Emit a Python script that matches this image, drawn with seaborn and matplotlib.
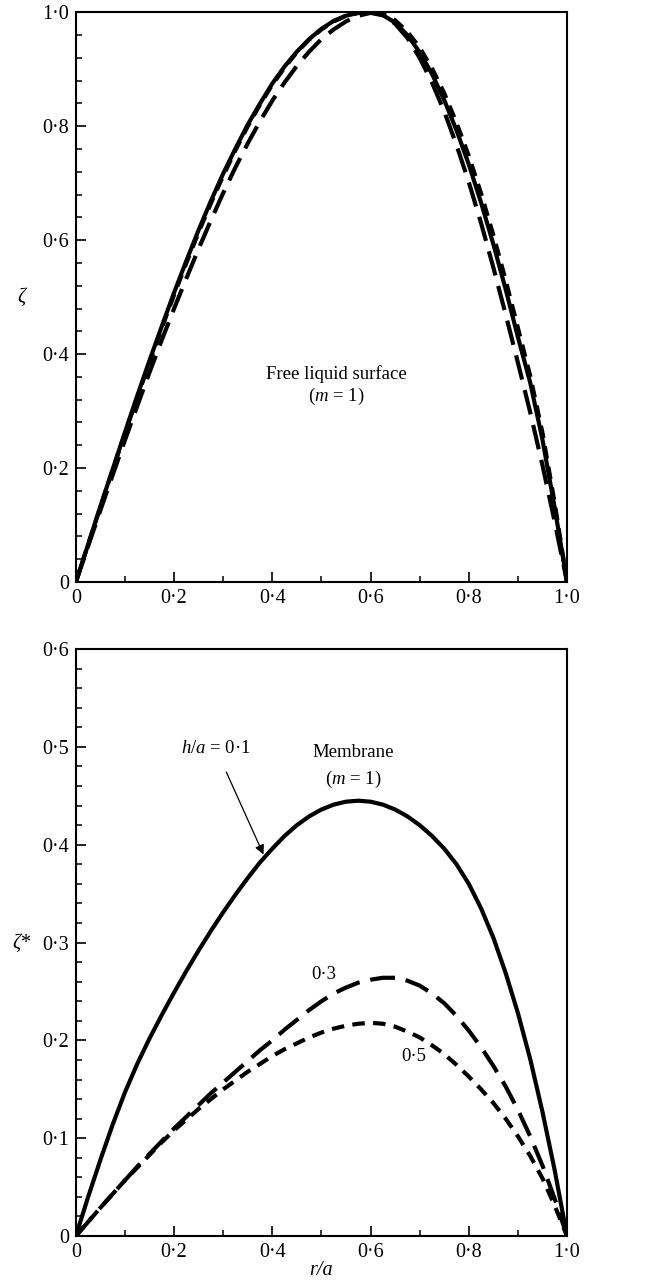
import numpy as np
import pandas as pd
import matplotlib
matplotlib.use("Agg")
import matplotlib.pyplot as plt
import seaborn as sns
from matplotlib.ticker import MultipleLocator

# ---------------- data ----------------
r_a = [0.0, 0.025, 0.05, 0.075, 0.10, 0.125, 0.15, 0.175, 0.20, 0.225,
       0.25, 0.275, 0.30, 0.325, 0.35, 0.375, 0.40, 0.425, 0.45, 0.475,
       0.50, 0.525, 0.55, 0.575, 0.60, 0.625, 0.65, 0.675, 0.70, 0.725,
       0.75, 0.775, 0.80, 0.825, 0.85, 0.875, 0.90, 0.925, 0.95, 0.975, 1.0]

# top panel: free liquid surface (m = 1)
free_solid = [0, .066, .133, .198, .263, .327, .389, .449, .508, .564,
              .618, .669, .717, .761, .803, .840, .875, .905, .931, .953,
              .971, .985, .994, .999, 1.0, .995, .982, .960, .930, .892,
              .846, .793, .733, .666, .593, .514, .430, .350, .250, .130, 0]
free_long = [0, .063, .126, .188, .249, .309, .368, .425, .480, .533,
             .585, .635, .683, .728, .770, .809, .845, .877, .906, .931,
             .953, .970, .984, .994, .999, .995, .980, .955, .920, .877,
             .826, .767, .702, .630, .552, .470, .385, .298, .205, .105, 0]
free_short = [0, .066, .132, .197, .261, .324, .386, .446, .504, .560,
              .614, .665, .713, .758, .800, .838, .873, .903, .930, .952,
              .970, .984, .994, .999, 1.0, .997, .986, .966, .938, .902,
              .858, .806, .748, .682, .609, .530, .446, .362, .262, .138, 0]

# bottom panel: membrane (m = 1), h/a = 0.1, 0.3, 0.5
mem_01 = [0, .040, .078, .114, .147, .176, .202, .226, .249, .271,
          .292, .312, .331, .349, .366, .382, .396, .409, .420, .429,
          .436, .441, .444, .445, .444, .441, .436, .429, .420, .409,
          .396, .380, .360, .335, .305, .269, .228, .181, .127, .067, 0]
mem_03 = [0, .0145, .029, .043, .057, .071, .084, .097, .110, .122,
          .134, .146, .157, .168, .179, .190, .200, .211, .221, .231,
          .240, .248, .254, .259, .262, .264, .264, .261, .256, .248,
          .238, .225, .210, .193, .174, .153, .129, .102, .072, .038, 0]
mem_05 = [0, .0145, .029, .043, .057, .070, .083, .096, .108, .119,
          .130, .140, .150, .159, .168, .176, .184, .191, .197, .203,
          .208, .212, .215, .217, .218, .217, .214, .209, .203, .195,
          .186, .175, .163, .150, .136, .120, .102, .082, .059, .031, 0]

x_ticks = [0, 0.2, 0.4, 0.6, 0.8, 1.0]
x_ticklabels = ["0", "0·2", "0·4", "0·6", "0·8", "1·0"]
top_yticks = [0, 0.2, 0.4, 0.6, 0.8, 1.0]
top_yticklabels = ["0", "0·2", "0·4", "0·6", "0·8", "1·0"]
bot_yticks = [0, 0.1, 0.2, 0.3, 0.4, 0.5, 0.6]
bot_yticklabels = ["0", "0·1", "0·2", "0·3", "0·4", "0·5", "0·6"]

# ---------------- style ----------------
sns.set_theme(style="white")
plt.rcParams["font.family"] = ["Liberation Serif", "DejaVu Serif"]
plt.rcParams["mathtext.fontset"] = "custom"
plt.rcParams["mathtext.it"] = "Liberation Serif:italic"
plt.rcParams["mathtext.rm"] = "Liberation Serif"
plt.rcParams["text.color"] = "black"
plt.rcParams["axes.labelcolor"] = "black"
plt.rcParams["xtick.color"] = "black"
plt.rcParams["ytick.color"] = "black"

fig = plt.figure(figsize=(6.54, 12.83), dpi=100)
ax1 = fig.add_axes([0.116, 0.5464, 0.751, 0.444])
ax2 = fig.add_axes([0.116, 0.0366, 0.751, 0.4575])

LW = 3.0
SOLID = "-"
LONG = (0, (6.0, 2.6))
SHORT = (0, (3.0, 2.0))

def draw(ax, y, ls):
    df = pd.DataFrame({"r": r_a, "z": y})
    sns.lineplot(data=df, x="r", y="z", ax=ax, color="black", linewidth=LW,
                 linestyle=ls, sort=True, estimator=None)

draw(ax1, free_long, LONG)
draw(ax1, free_short, SHORT)
draw(ax1, free_solid, SOLID)

draw(ax2, mem_03, LONG)
draw(ax2, mem_05, SHORT)
draw(ax2, mem_01, SOLID)

TICK_FS = 14.5
TXT_FS = 13.5

for ax, yt, ytl, ymax, yminor in [(ax1, top_yticks, top_yticklabels, 1.0, 0.04),
                                  (ax2, bot_yticks, bot_yticklabels, 0.6, 0.02)]:
    ax.set_xlim(0, 1)
    ax.set_ylim(0, ymax)
    ax.set_xticks(x_ticks)
    ax.set_xticklabels(x_ticklabels)
    ax.set_yticks(yt)
    ax.set_yticklabels(ytl)
    ax.xaxis.set_minor_locator(MultipleLocator(0.1))
    ax.yaxis.set_minor_locator(MultipleLocator(yminor))
    ax.tick_params(axis="both", which="major", direction="in", length=7, width=1.2,
                   labelsize=TICK_FS, colors="black", pad=5, top=False, right=False,
                   bottom=True, left=True)
    ax.tick_params(axis="both", which="minor", direction="in", length=4, width=1.1,
                   colors="black", top=False, right=False, bottom=True, left=True)
    for s in ax.spines.values():
        s.set_linewidth(1.5)
        s.set_color("black")
    ax.set_xlabel("")
    ax.set_ylabel("")

ax1.set_ylabel("ζ", rotation=0, fontsize=TICK_FS, style="italic", va="center", ha="center")
ax1.yaxis.set_label_coords(-0.11, 0.5)
ax2.set_ylabel("$\\it{ζ}$*", rotation=0, fontsize=TICK_FS, va="center", ha="center")
ax2.yaxis.set_label_coords(-0.11, 0.5)
ax2.set_xlabel("r/a", fontsize=TICK_FS, style="italic", va="center")
ax2.xaxis.set_label_coords(0.5, -0.058)

ax1.text(0.53, 0.365, "Free liquid surface", ha="center", va="center", fontsize=TXT_FS)
ax1.text(0.53, 0.325, "($\\it{m}$ = 1)", ha="center", va="center", fontsize=TXT_FS)

ax2.text(0.565, 0.494, "Membrane", ha="center", va="center", fontsize=TXT_FS)
ax2.text(0.565, 0.467, "($\\it{m}$ = 1)", ha="center", va="center", fontsize=TXT_FS)
ax2.annotate("$\\it{h/a}$ = 0·1", xy=(0.382, 0.39), xytext=(0.285, 0.498),
             ha="center", va="center", fontsize=TXT_FS,
             arrowprops=dict(arrowstyle="-|>", color="black", lw=0.9,
                             mutation_scale=14, shrinkA=9, shrinkB=0))
ax2.text(0.505, 0.267, "0·3", ha="center", va="center", fontsize=TXT_FS)
ax2.text(0.687, 0.184, "0·5", ha="center", va="center", fontsize=TXT_FS)

fig.savefig("out.png", dpi=100, facecolor="white")
